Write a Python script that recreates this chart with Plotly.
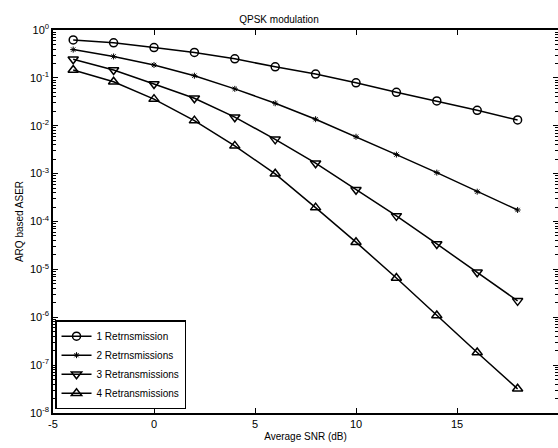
import plotly.graph_objects as go

snr = [-4, -2, 0, 2, 4, 6, 8, 10, 12, 14, 16, 18]
ser_1 = [0.62, 0.54, 0.43, 0.34, 0.25, 0.17, 0.12, 0.079, 0.050, 0.033, 0.021, 0.0132]
ser_2 = [0.39, 0.28, 0.186, 0.111, 0.059, 0.0295, 0.0137, 0.0059, 0.0025, 0.00105, 0.00042, 0.000174]
ser_3 = [0.245, 0.146, 0.0746, 0.0375, 0.0151, 0.0052, 0.00165, 0.00046, 0.000131, 3.4e-5, 8.7e-6, 2.2e-6]
ser_4 = [0.146, 0.083, 0.036, 0.0128, 0.0038, 0.00099, 1.95e-4, 3.7e-5, 6.6e-6, 1.09e-6, 1.83e-7, 3.2e-8]
names = ["1 Retrnsmission", "2 Retrnsmissions", "3 Retransmissions", "4 Retransmissions"]
x_ticks = [-5, 0, 5, 10, 15, 20]
y_tick_exps = [0, -1, -2, -3, -4, -5, -6, -7, -8]

series = [ser_1, ser_2, ser_3, ser_4]
symbols = ["circle-open", "asterisk-open", "triangle-down-open", "triangle-up-open"]
sizes = [8, 5, 9, 9]
mlw = [1.5, 1, 1.5, 1.5]

fig = go.Figure()
for s, n, sym, sz, w in zip(series, names, symbols, sizes, mlw):
    fig.add_trace(go.Scatter(
        x=snr, y=s, name=n, mode="lines+markers",
        line=dict(color="black", width=1.5),
        marker=dict(symbol=sym, size=sz, color="black", line=dict(color="black", width=w)),
    ))

font = "Liberation Sans, Arial, sans-serif"
fig.update_layout(
    width=558, height=448,
    margin=dict(l=53, r=0, t=30, b=35, autoexpand=False),
    paper_bgcolor="white", plot_bgcolor="white",
    font=dict(family=font, size=10, color="black"),
    title=dict(text="QPSK modulation", x=0.5, xanchor="center", y=1 - 19/448, yanchor="middle",
               font=dict(size=10)),
    showlegend=True,
    legend=dict(x=0.004, y=0.01, xanchor="left", yanchor="bottom",
                bgcolor="white", bordercolor="black", borderwidth=1.5,
                font=dict(size=10), tracegroupgap=0),
)
fig.update_xaxes(
    range=[-5, 20], tickvals=x_ticks, ticktext=[str(v) for v in x_ticks],
    ticks="inside", ticklen=5, tickcolor="black", showgrid=False, zeroline=False,
    showline=True, linecolor="black", linewidth=1.5, mirror="ticks",
    title=dict(text="Average SNR (dB)", font=dict(size=10), standoff=4),
    tickfont=dict(size=11), automargin=False,
)
fig.update_yaxes(
    type="log", range=[-8, 0],
    tickvals=[10 ** e for e in y_tick_exps],
    ticktext=["10<sup>%d</sup>" % e for e in y_tick_exps],
    ticks="inside", ticklen=5, tickcolor="black", showgrid=False,
    showline=True, linecolor="black", linewidth=1.5, mirror="ticks",
    minor=dict(ticks="inside", ticklen=3, tickcolor="black", dtick="D1", showgrid=False),
    title=dict(text="ARQ based ASER", font=dict(size=10), standoff=4),
    tickfont=dict(size=11), automargin=False,
)
fig.write_html("out.html", config={"displayModeBar": False},
               post_script="document.body.style.margin='0';")
